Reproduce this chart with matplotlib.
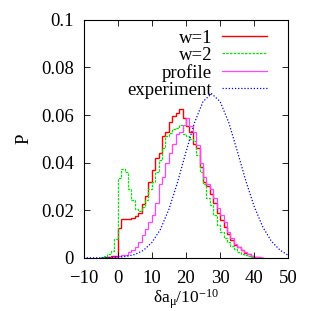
import numpy as np
import matplotlib
matplotlib.use("Agg")
import matplotlib.pyplot as plt

plt.rcParams['font.family'] = ['Liberation Serif', 'DejaVu Serif']
plt.rcParams['mathtext.default'] = 'regular'

# histogram bins: left edge -5, width 1
bin_edges = list(range(-5, 44))

w1 = [0, 0.0003, 0.0005, 0.0008, 0.0008, 0.0125, 0.0162, 0.0165, 0.0165, 0.0168,
      0.0175, 0.019, 0.0225, 0.026, 0.032, 0.037, 0.042, 0.044, 0.051, 0.053,
      0.057, 0.0595, 0.061, 0.0625, 0.0587, 0.0555, 0.053, 0.048, 0.046, 0.038,
      0.032, 0.030, 0.027, 0.023, 0.019, 0.016, 0.013, 0.010, 0.0076, 0.0055,
      0.0045, 0.0034, 0.0022, 0.0015, 0.0008, 0.0005, 0.0003, 0.0001]

w2 = [0.0003, 0.0007, 0.0014, 0.003, 0.0078, 0.0335, 0.0373, 0.036, 0.029, 0.0244,
      0.0204, 0.0197, 0.0215, 0.0244, 0.029, 0.032, 0.036, 0.041, 0.046, 0.051,
      0.0524, 0.054, 0.0545, 0.0559, 0.052, 0.051, 0.050, 0.049, 0.0433, 0.036,
      0.031, 0.025, 0.022, 0.018, 0.014, 0.011, 0.0085, 0.0065, 0.005, 0.0036,
      0.0026, 0.0018, 0.0011, 0.0007, 0.0004, 0.0002, 0.0001, 0.0]

profile = [0, 0, 0.0001, 0.0002, 0.0003, 0.0006, 0.001, 0.0013, 0.0025, 0.0032,
           0.0046, 0.0067, 0.0095, 0.0123, 0.015, 0.018, 0.023, 0.031, 0.034, 0.040,
           0.044, 0.048, 0.052, 0.053, 0.056, 0.0587, 0.0555, 0.053, 0.0475, 0.040,
           0.034, 0.031, 0.029, 0.025, 0.021, 0.018, 0.015, 0.011, 0.0085, 0.006,
           0.0045, 0.0034, 0.0023, 0.0015, 0.0009, 0.0005, 0.0002, 0.0]

exp_x = [-10, -5, 0, 2.5, 5, 7.5, 10, 12.5, 15, 17.5, 20, 22.5, 25, 27.5,
         30, 32.5, 35, 37.5, 40, 42.5, 45, 47.5, 50]
exp_y = [0.0, 0.0, 0.0003, 0.0006, 0.0014, 0.0031, 0.0064, 0.0119, 0.0204, 0.0316,
         0.0445, 0.0568, 0.0657, 0.0690, 0.0657, 0.0570, 0.0450, 0.0325, 0.0215,
         0.0130, 0.0070, 0.0033, 0.0010]

x_ticks = [-10, 0, 10, 20, 30, 40, 50]
y_ticks = [0, 0.02, 0.04, 0.06, 0.08, 0.1]
y_ticklabels = ['0', '0.02', '0.04', '0.06', '0.08', '0.1']

FS = 13.5

fig = plt.figure(figsize=(3.19, 3.11), dpi=100)
ax = fig.add_axes([0.262, 0.171, 0.642, 0.765])

ax.stairs(w1, bin_edges, color='#ff0000', lw=1.0, label='w=1')
ax.stairs(w2, bin_edges, color='#00e600', lw=0.9, linestyle=(0, (2, 1)), label='w=2')
ax.stairs(profile, bin_edges, color='#ff44ff', lw=0.9, label='profile')
ax.plot(exp_x, exp_y, color='#0000ff', lw=0.9, linestyle=(0, (1, 1.5)), label='experiment')

ax.set_xlim(-10, 50)
ax.set_ylim(0, 0.1)
ax.set_xticks(x_ticks)
ax.set_yticks(y_ticks)
ax.set_yticklabels(y_ticklabels)
ax.tick_params(direction='in', top=True, right=True, labelsize=FS, length=4, width=0.6)
ax.tick_params(axis='x', pad=9)
ax.tick_params(axis='y', pad=7)
for s in ax.spines.values():
    s.set_linewidth(0.8)

ax.set_xlabel('δa$_{\\mu}$/10$^{-10}$', fontsize=12.5, labelpad=0)
ax.set_ylabel('P', fontsize=FS, labelpad=6)

leg = ax.legend(loc='upper right', bbox_to_anchor=(0.898, 0.96), frameon=False,
                fontsize=FS, markerfirst=False, handlelength=2.4, handletextpad=0.55,
                labelspacing=0.0, borderaxespad=0.0, borderpad=0.0)
for t in leg.get_texts():
    t.set_ha('right')

fig.savefig('out.png', dpi=100)
